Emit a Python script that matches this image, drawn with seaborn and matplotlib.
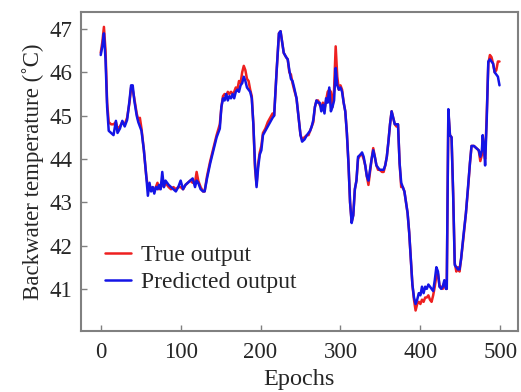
import matplotlib
matplotlib.use("Agg")
import matplotlib.pyplot as plt
import seaborn as sns
import pandas as pd

epochs = [0, 2, 4, 6, 8, 10, 13, 16, 19, 21, 24, 27, 30, 33, 36, 38, 40, 42, 45, 47, 49, 51, 54, 57, 59,
          61, 63, 65, 67, 69, 71, 73, 75, 77, 79, 81, 83, 85, 88, 91, 94, 97, 100, 103, 106, 109, 112, 115,
          118, 120, 122, 125, 128, 130, 133, 137, 141, 145, 149, 151, 153, 155, 157, 159, 161, 163, 165,
          167, 169, 171, 173, 175, 177, 179, 181, 183, 185, 187, 189, 191, 193, 195, 197, 199, 201, 203,
          206, 209, 212, 215, 217, 220, 223, 225, 227, 229, 232, 234, 236, 238, 240, 242, 245, 248, 250,
          252, 255, 258, 260, 262, 264, 266, 268, 270, 272, 274, 276, 278, 280, 282, 284, 286, 288, 290,
          292, 294, 296, 298, 300, 302, 304, 306, 308, 310, 312, 314, 316, 318, 320, 322, 325, 327, 329,
          331, 333, 335, 337, 339, 341, 343, 345, 347, 349, 352, 354, 356, 358, 360, 362, 364, 366, 368,
          370, 372, 374, 376, 378, 380, 382, 384, 386, 388, 390, 392, 394, 396, 398, 400, 402, 404, 406,
          408, 410, 412, 414, 416, 418, 420, 422, 424, 426, 428, 430, 432, 433, 435, 437, 439, 441, 443,
          445, 447, 449, 451, 454, 457, 460, 462, 464, 467, 470, 473, 475, 477, 478, 480, 481, 483, 485,
          487, 489, 491, 493, 495, 497, 499]

true_output = [46.45, 46.7, 47.05, 46.5, 45.3, 44.85, 44.8, 44.8, 44.85, 44.7, 44.75, 44.85, 44.8, 44.95,
               45.3, 45.65, 45.6, 45.4, 45.05, 44.9, 44.95, 44.7, 44.2, 43.6, 43.35,
               43.3, 43.3, 43.35, 43.25, 43.35, 43.45, 43.3, 43.4, 43.5, 43.35, 43.45, 43.4, 43.35, 43.3,
               43.35, 43.3, 43.35, 43.35, 43.3, 43.4, 43.45, 43.5, 43.45,
               43.45, 43.7, 43.5, 43.35, 43.25, 43.25, 43.6, 43.95, 44.25, 44.55, 44.8, 45.2, 45.45, 45.5,
               45.45, 45.55, 45.5, 45.55, 45.5,
               45.55, 45.65, 45.6, 45.8, 45.75, 46.0, 46.15, 46.05, 45.85, 45.8, 45.6, 45.45, 44.8, 43.8,
               43.4, 43.9, 44.15, 44.3, 44.6,
               44.7, 44.85, 44.95, 45.05, 45.0, 46.0, 46.9, 46.95, 46.7, 46.45, 46.35, 46.3, 46.0, 45.95,
               45.75, 45.6, 45.4, 44.9, 44.55,
               44.45, 44.5, 44.55, 44.55, 44.65, 44.75, 44.85, 45.2, 45.35, 45.35, 45.25, 45.2, 45.3, 45.15,
               45.35, 45.55, 45.6, 45.55, 45.2,
               45.6, 46.6, 45.9, 45.6, 45.7, 45.6, 45.3, 45.1, 44.6, 43.9, 43.0, 42.55, 42.7, 43.3, 43.5,
               44.0, 44.1, 44.1, 44.0,
               43.85, 43.6, 43.4, 43.7, 44.0, 44.25, 44.05, 43.85, 43.75, 43.75, 43.7, 43.7, 43.85, 44.05,
               44.4, 44.8, 45.1, 44.95, 44.8,
               44.75, 44.8, 43.9, 43.35, 43.35, 43.25, 43.0, 42.75, 42.3, 41.7, 41.1, 40.75, 40.5, 40.65,
               40.7, 40.65, 40.75, 40.7, 40.8,
               40.8, 40.85, 40.75, 40.7, 40.85, 41.05, 41.3, 41.35, 41.05, 41.05, 41.0, 41.15, 41.0, 41.0,
               45.1, 44.55, 44.5, 43.2, 41.6,
               41.4, 41.5, 41.4, 41.7, 42.2, 42.75, 43.4, 43.9, 44.3, 44.3, 44.25, 44.2, 43.95, 44.1, 44.5,
               44.1, 44.0, 45.0, 46.2,
               46.4, 46.35, 46.2, 46.0, 46.05, 46.25, 46.25]

predicted_output = [46.4, 46.6, 46.9, 46.3, 45.2, 44.65, 44.6, 44.55, 44.88, 44.6, 44.7, 44.88, 44.75, 44.9,
                    45.35, 45.7, 45.7, 45.35, 45.0, 44.85, 44.75, 44.65, 44.2, 43.6, 43.15,
                    43.45, 43.25, 43.35, 43.2, 43.35, 43.3, 43.4, 43.3, 43.7, 43.35, 43.5, 43.45, 43.4, 43.35,
                    43.3, 43.25, 43.35, 43.5, 43.3, 43.4, 43.45, 43.5, 43.55,
                    43.35, 43.5, 43.45, 43.3, 43.25, 43.25, 43.55, 43.9, 44.2, 44.5, 44.7, 45.2, 45.4, 45.35,
                    45.5, 45.35, 45.45, 45.4, 45.5,
                    45.4, 45.55, 45.6, 45.55, 45.7, 45.75, 45.9, 45.8, 45.65, 45.6, 45.55, 45.4, 44.8, 43.9,
                    43.35, 43.8, 44.1, 44.2, 44.55,
                    44.65, 44.75, 44.85, 44.95, 45.0, 46.0, 46.9, 46.95, 46.7, 46.45, 46.35, 46.3, 46.05, 45.85,
                    45.8, 45.65, 45.4, 44.9, 44.55,
                    44.4, 44.45, 44.55, 44.6, 44.65, 44.75, 44.9, 45.2, 45.35, 45.3, 45.3, 45.1, 45.25, 45.05,
                    45.4, 45.3, 45.65, 45.1, 45.2,
                    45.35, 46.1, 45.7, 45.6, 45.65, 45.55, 45.3, 45.1, 44.6, 43.9, 43.0, 42.52, 42.7, 43.3,
                    43.5, 44.05, 44.1, 44.15, 44.05,
                    43.85, 43.6, 43.5, 43.75, 44.0, 44.2, 44.05, 43.85, 43.8, 43.75, 43.75, 43.75, 43.85, 44.05,
                    44.4, 44.8, 45.1, 44.95, 44.8,
                    44.8, 44.8, 43.9, 43.45, 43.35, 43.25, 43.0, 42.75, 42.3, 41.7, 41.1, 40.8, 40.65, 40.75,
                    40.9, 40.85, 41.05, 40.9, 41.05,
                    41.0, 41.1, 41.05, 41.0, 40.95, 41.2, 41.5, 41.4, 41.05, 41.0, 41.05, 41.2, 41.0, 41.0,
                    45.15, 44.55, 44.5, 43.2, 41.55,
                    41.5, 41.45, 41.45, 41.7, 42.25, 42.75, 43.45, 43.9, 44.3, 44.3, 44.25, 44.2, 44.05, 44.2,
                    44.55, 44.2, 43.85, 44.9, 46.25,
                    46.3, 46.25, 46.2, 46.0, 45.95, 45.9, 45.7]

series_names = ["True output", "Predicted output"]
x_ticks = [0, 100, 200, 300, 400, 500]
y_ticks = [41, 42, 43, 44, 45, 46, 47]

df = pd.concat([
    pd.DataFrame({"Epochs": epochs, "Value": true_output, "Series": series_names[0]}),
    pd.DataFrame({"Epochs": epochs, "Value": predicted_output, "Series": series_names[1]}),
], ignore_index=True)

sns.set_theme(style="white")
plt.rcParams["font.family"] = ["Liberation Serif", "DejaVu Serif"]

fig = plt.figure(figsize=(5.21, 3.92), dpi=100)
ax = fig.add_axes([0.155, 0.156, 0.839, 0.813])

sns.lineplot(data=df, x="Epochs", y="Value", hue="Series", hue_order=series_names,
             palette={"True output": "#ee2020", "Predicted output": "#1414e6"},
             linewidth=1.8, ax=ax, estimator=None, sort=False)

ax.set_xlim(-25, 522)
ax.set_ylim(40.03, 47.39)
ax.set_xticks(x_ticks)
ax.set_yticks(y_ticks)
ax.set_xlabel("Epochs", fontsize=17.5, labelpad=4)
ax.set_ylabel("Backwater temperature (\u02daC)", fontsize=16.5, labelpad=4)
ax.tick_params(axis="both", which="major", direction="in", length=4, width=1, color="#808080",
               bottom=True, left=True, top=False, right=False, labelsize=16.5, pad=6)
ax.tick_params(axis="x", pad=8)
for s in ax.spines.values():
    s.set_color("#808080")
    s.set_linewidth(1.5)

leg = ax.legend(loc="upper left", bbox_to_anchor=(0.035, 0.30), frameon=False, fontsize=17,
                handlelength=1.1, handletextpad=0.4, labelspacing=0.22, borderaxespad=0)
for line in leg.get_lines():
    line.set_linewidth(1.8)

fig.savefig("out.png", dpi=100)
